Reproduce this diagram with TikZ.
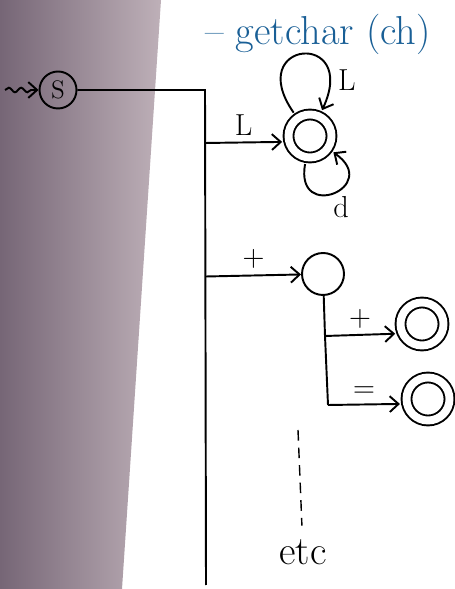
\documentclass[tikz,border=0pt]{standalone}
\usepackage{amsmath}
\usepackage{tikz}
\usetikzlibrary{arrows.meta, positioning, automata, decorations.pathmorphing}

\definecolor{inkblue}{RGB}{25,95,150}
\definecolor{shadowdark}{RGB}{118,102,118}
\definecolor{shadowlight}{RGB}{190,176,184}

\begin{document}
\begin{tikzpicture}[
    line width=1.1pt,
    >={Straight Barb[length=5pt, width=9pt]},
    every edge/.style={draw, ->},
    start/.style={circle, draw, minimum size=0.74cm, inner sep=0pt, font=\Large},
    plain/.style={circle, draw, minimum size=0.84cm, inner sep=0pt},
    final/.style={circle, draw, double, double distance=4.5pt, minimum size=0.86cm, inner sep=0pt, outer sep=0.14cm},
    sym/.style={font=\LARGE},
    note/.style={font=\fontsize{23}{27}\selectfont}
  ]

  \useasboundingbox (0,0) rectangle (9.1,11.78);
  \shade[left color=shadowdark, right color=shadowlight] (0,0) -- (0,11.78) -- (3.22,11.78) -- (2.44,0) -- cycle;

  \node[note, text=inkblue] (title) at (6.36,11.1) {-- getchar (ch)};

  \coordinate (entry) at (0.1,9.98);
  \node[start] (s) at (1.16,9.98) {S};
  \coordinate (corner) at (4.1,9.98);
  \coordinate (bottom) at (4.12,0.08);
  \coordinate (toL) at (4.1,8.92);
  \coordinate (toP) at (4.12,6.25);

  \node[final] (ident) at (6.2,9.06) {};
  \node[plain] (plus) at (6.46,6.3) {};
  \coordinate (pm) at (6.5,5.06);
  \coordinate (pe) at (6.56,3.68);
  \node[final] (incr) at (8.44,5.3) {};
  \node[final] (pluseq) at (8.56,3.8) {};

  \coordinate (dots) at (5.96,3.18);
  \node[note] (etc) at (6.06,0.74) {etc};

  \draw (s) -- (corner) -- (bottom);
  \draw (plus) -- (pm) -- (pe);
  \draw[dash pattern=on 6pt off 4pt, line width=0.8pt, shorten >=4pt] (dots) -- (etc);

  \path
    (entry) edge[decorate, decoration={snake, amplitude=1.3pt, segment length=7pt, post length=3pt}] (s)

    (toL) edge node[sym, midway, above] {L} (ident.192)
    (ident) edge[loop, out=125, in=65, looseness=8] node[sym, pos=0.85, right=1pt] {L} (ident)
    (ident) edge[loop, out=-100, in=-35, looseness=5] node[sym, pos=0.5, below right=-2pt and -4pt] {d} (ident)

    (toP) edge node[sym, midway, above] {+} (plus)
    (pm) edge node[sym, midway, above] {+} (incr.200)
    (pe) edge node[sym, midway, above] {=} (pluseq.190)
  ;
\end{tikzpicture}
\end{document}
